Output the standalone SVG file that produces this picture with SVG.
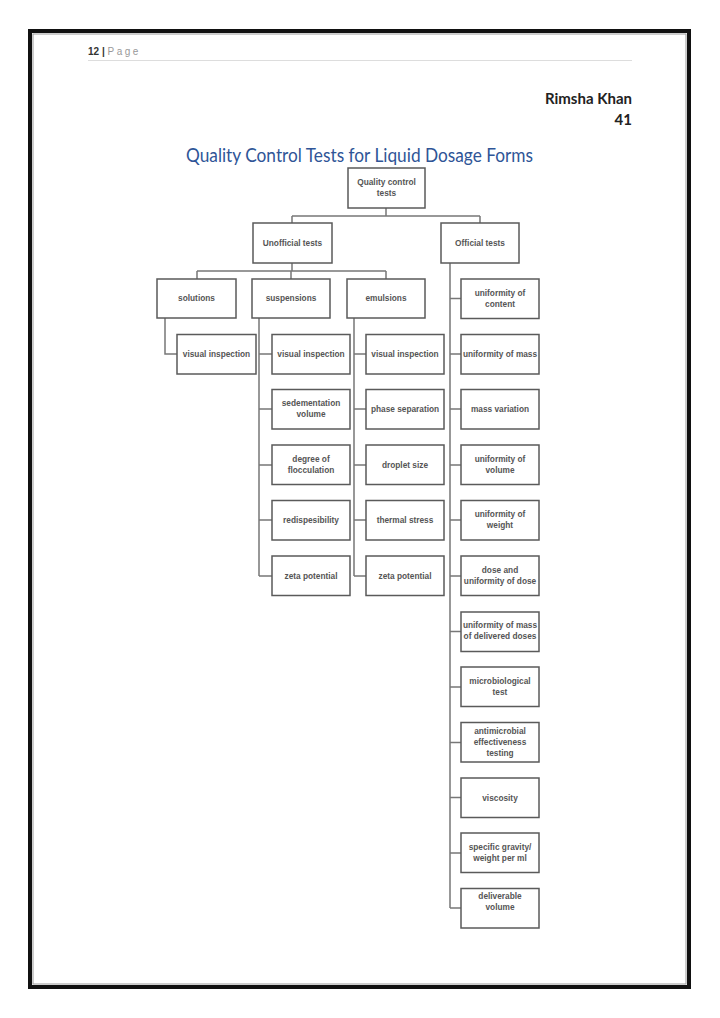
<svg xmlns="http://www.w3.org/2000/svg" width="720" height="1018" viewBox="0 0 720 1018">
<style>
.box{fill:#fff;stroke:#5a5a5a;stroke-width:1.5}
.lbl{font-family:"Liberation Sans",Arial,sans-serif;font-size:8.3px;font-weight:bold;fill:#555;text-anchor:middle}
.con{fill:none;stroke:#777;stroke-width:1.5}
</style>
<rect x="0" y="0" width="720" height="1018" fill="#fff"/>
<rect x="30" y="31" width="659" height="956" fill="none" stroke="#111" stroke-width="4"/>
<rect x="33" y="34" width="653" height="950" fill="none" stroke="#999" stroke-width="1"/>
<g id="header">
<text x="88" y="55" font-family="Liberation Sans,Arial,sans-serif" font-size="10" font-weight="bold" fill="#333">12 <tspan fill="#333">|</tspan> <tspan font-weight="normal" fill="#999" letter-spacing="2.5">Page</tspan></text>
<line x1="88" y1="60.5" x2="632" y2="60.5" stroke="#ddd" stroke-width="1"/>
<text x="632" y="104" font-family="Lato,Liberation Sans,Arial,sans-serif" font-size="15" font-weight="bold" fill="#222" text-anchor="end">Rimsha Khan</text>
<text x="632" y="125" font-family="Lato,Liberation Sans,Arial,sans-serif" font-size="15" font-weight="bold" fill="#222" text-anchor="end">41</text>
<text x="186" y="162" font-family="Lato,Liberation Sans,Arial,sans-serif" font-size="18.5" fill="#2f5597" textLength="347" lengthAdjust="spacingAndGlyphs">Quality Control Tests for Liquid Dosage Forms</text>
</g>
<g id="connectors">
<path class="con" d="M386 208V216M292 216H480M292 216V223M480 216V223"/>
<path class="con" d="M292 263V271M197 271H386M197 271V279M291 271V279M386 271V279"/>
<path class="con" d="M165 318V354H177"/>
<path class="con" d="M259 318V576M259 354H272M259 409H272M259 465H272M259 520H272M259 576H272"/>
<path class="con" d="M354 318V576M354 354H366M354 409H366M354 465H366M354 520H366M354 576H366"/>
<path class="con" d="M450 263V908M450 298.5H461M450 354H461M450 409H461M450 465H461M450 520H461M450 576H461M450 631.5H461M450 687H461M450 742.5H461M450 797.5H461M450 853H461M450 908H461"/>
</g>
<g id="root"><rect class="box" x="348" y="168" width="77" height="40"/><text class="lbl" x="386.5" y="185">Quality control</text><text class="lbl" x="386.5" y="196">tests</text></g>
<g id="unofficial"><rect class="box" x="253" y="223" width="79" height="40"/><text class="lbl" x="292.5" y="246">Unofficial tests</text></g>
<g id="official"><rect class="box" x="441" y="223" width="78" height="40"/><text class="lbl" x="480" y="246">Official tests</text></g>
<g id="solutions"><rect class="box" x="157" y="279" width="79" height="39"/><text class="lbl" x="196.5" y="301">solutions</text></g>
<g id="suspensions"><rect class="box" x="252" y="279" width="78" height="39"/><text class="lbl" x="291" y="301">suspensions</text></g>
<g id="emulsions"><rect class="box" x="347" y="279" width="78" height="39"/><text class="lbl" x="386" y="301">emulsions</text></g>
<g id="sol-visual"><rect class="box" x="177" y="334.5" width="79" height="39.5"/><text class="lbl" x="216.5" y="357">visual inspection</text></g>
<g id="sus-visual"><rect class="box" x="272" y="334.5" width="78" height="39.5"/><text class="lbl" x="311" y="357">visual inspection</text></g>
<g id="sus-sed"><rect class="box" x="272" y="389.5" width="78" height="39.5"/><text class="lbl" x="311" y="406">sedementation</text><text class="lbl" x="311" y="417">volume</text></g>
<g id="sus-floc"><rect class="box" x="272" y="445" width="78" height="39.5"/><text class="lbl" x="311" y="462">degree of</text><text class="lbl" x="311" y="473">flocculation</text></g>
<g id="sus-redisp"><rect class="box" x="272" y="500.5" width="78" height="39.5"/><text class="lbl" x="311" y="523">redispesibility</text></g>
<g id="sus-zeta"><rect class="box" x="272" y="556" width="78" height="39.5"/><text class="lbl" x="311" y="579">zeta potential</text></g>
<g id="emu-visual"><rect class="box" x="366" y="334.5" width="78" height="39.5"/><text class="lbl" x="405" y="357">visual inspection</text></g>
<g id="emu-phase"><rect class="box" x="366" y="389.5" width="78" height="39.5"/><text class="lbl" x="405" y="412">phase separation</text></g>
<g id="emu-droplet"><rect class="box" x="366" y="445" width="78" height="39.5"/><text class="lbl" x="405" y="468">droplet size</text></g>
<g id="emu-thermal"><rect class="box" x="366" y="500.5" width="78" height="39.5"/><text class="lbl" x="405" y="523">thermal stress</text></g>
<g id="emu-zeta"><rect class="box" x="366" y="556" width="78" height="39.5"/><text class="lbl" x="405" y="579">zeta potential</text></g>
<g id="off-content"><rect class="box" x="461" y="279" width="78" height="39.5"/><text class="lbl" x="500" y="296">uniformity of</text><text class="lbl" x="500" y="307">content</text></g>
<g id="off-mass"><rect class="box" x="461" y="334.5" width="78" height="39.5"/><text class="lbl" x="500" y="357">uniformity of mass</text></g>
<g id="off-massvar"><rect class="box" x="461" y="389.5" width="78" height="39.5"/><text class="lbl" x="500" y="412">mass variation</text></g>
<g id="off-volume"><rect class="box" x="461" y="445" width="78" height="39.5"/><text class="lbl" x="500" y="462">uniformity of</text><text class="lbl" x="500" y="473">volume</text></g>
<g id="off-weight"><rect class="box" x="461" y="500.5" width="78" height="39.5"/><text class="lbl" x="500" y="517">uniformity of</text><text class="lbl" x="500" y="528">weight</text></g>
<g id="off-dose"><rect class="box" x="461" y="556" width="78" height="39.5"/><text class="lbl" x="500" y="573">dose and</text><text class="lbl" x="500" y="584">uniformity of dose</text></g>
<g id="off-delivered"><rect class="box" x="461" y="612" width="78" height="39.5"/><text class="lbl" x="500" y="628">uniformity of mass</text><text class="lbl" x="500" y="639">of delivered doses</text></g>
<g id="off-micro"><rect class="box" x="461" y="667" width="78" height="39.5"/><text class="lbl" x="500" y="684">microbiological</text><text class="lbl" x="500" y="695">test</text></g>
<g id="off-antimicro"><rect class="box" x="461" y="722.5" width="78" height="39.5"/><text class="lbl" x="500" y="734">antimicrobial</text><text class="lbl" x="500" y="745">effectiveness</text><text class="lbl" x="500" y="756">testing</text></g>
<g id="off-viscosity"><rect class="box" x="461" y="778" width="78" height="39.5"/><text class="lbl" x="500" y="801">viscosity</text></g>
<g id="off-gravity"><rect class="box" x="461" y="833" width="78" height="39.5"/><text class="lbl" x="500" y="850">specific gravity/</text><text class="lbl" x="500" y="861">weight per ml</text></g>
<g id="off-deliverable"><rect class="box" x="461" y="888.5" width="78" height="39.5"/><text class="lbl" x="500" y="899">deliverable</text><text class="lbl" x="500" y="910">volume</text></g>
</svg>
